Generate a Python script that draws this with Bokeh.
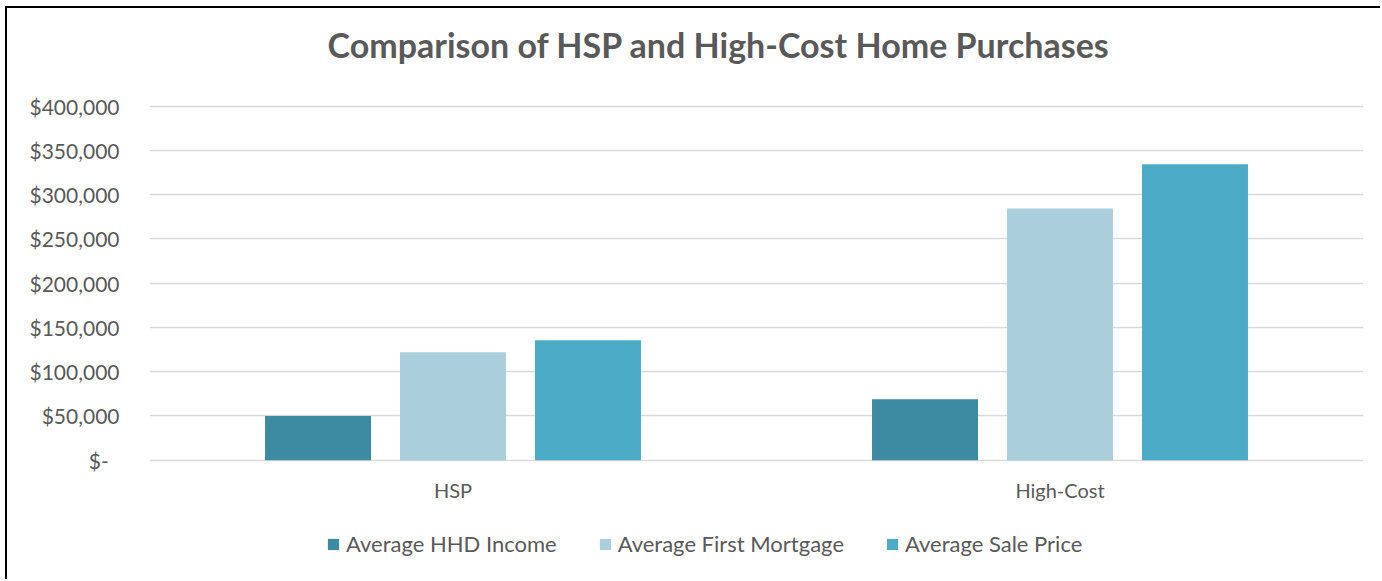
from bokeh.plotting import figure
from bokeh.models import (FactorRange, Range1d, FixedTicker, CustomJSTickFormatter,
                          ColumnDataSource, Legend, LegendItem, Title)
from bokeh.core.properties import value
from bokeh.transform import dodge
from bokeh.embed import file_html
from bokeh.resources import INLINE

categories = ["HSP", "High-Cost"]
series_names = ["Average HHD Income", "Average First Mortgage", "Average Sale Price"]
avg_hhd_income = [50000, 69000]
avg_first_mortgage = [122000, 284500]
avg_sale_price = [135500, 334500]
series_colors = ["#3C8BA3", "#AACEDC", "#4BABC6"]
y_ticks = [0, 50000, 100000, 150000, 200000, 250000, 300000, 350000, 400000]
title_text = "Comparison of HSP and High-Cost Home Purchases"

FONT = "Lato"
TEXT = "#595959"

source = ColumnDataSource(dict(cat=categories, income=avg_hhd_income,
                               mortgage=avg_first_mortgage, sale=avg_sale_price))

p = figure(x_range=FactorRange(factors=categories, range_padding=0),
           y_range=Range1d(-137000, 403000),
           width=1375, height=573, output_backend="svg", toolbar_location=None,
           min_border_left=142, min_border_right=19, min_border_top=95, min_border_bottom=0,
           title_location=None)
p.styles = {"box-shadow": "-2px -2px 0 0 black",
            "margin-left": "7px", "margin-top": "8px"}

bar_w = 0.1746
offsets = [-0.2224, 0.0, 0.2224]
cols = ["income", "mortgage", "sale"]
renderers = []
for col, off, color in zip(cols, offsets, series_colors):
    r = p.vbar(x=dodge("cat", off, range=p.x_range), top=col, bottom=0, width=bar_w,
               source=source, fill_color=color, line_color=None)
    renderers.append(r)

# category labels under the baseline
p.text(x="cat", y=0, text="cat", source=source, y_offset=30,
       text_align="center", text_baseline="middle",
       text_font=value(FONT), text_font_size="20px", text_color=TEXT)

p.outline_line_color = None
p.background_fill_color = "white"
p.border_fill_color = "white"

p.xgrid.visible = False
p.ygrid.ticker = FixedTicker(ticks=y_ticks)
p.ygrid.grid_line_color = "#D9D9D9"
p.ygrid.grid_line_width = 1.5

p.yaxis.ticker = FixedTicker(ticks=y_ticks)
p.yaxis.formatter = CustomJSTickFormatter(code="""
if (tick == 0) { return "$-\\u00a0\\u00a0"; }
return "$" + tick.toLocaleString("en-US");
""")
p.yaxis.axis_line_color = None
p.yaxis.major_tick_line_color = None
p.yaxis.minor_tick_line_color = None
p.yaxis.major_label_text_font = FONT
p.yaxis.major_label_text_font_size = "21px"
p.yaxis.major_label_text_color = TEXT
p.yaxis.major_label_standoff = 24

p.xaxis.visible = False

# spacer between frame and title, then the title itself (further out)
spacer = Title(text="\u00a0", text_font_size="10px", standoff=26)
p.add_layout(spacer, "above")
main_title = Title(text=title_text, text_font=FONT, text_font_style="bold",
                   text_font_size="34px", text_color=TEXT, align="left",
                   offset=178, standoff=0)
p.add_layout(main_title, "above")

legend = Legend(items=[LegendItem(label=n, renderers=[r]) for n, r in zip(series_names, renderers)],
                orientation="horizontal", location=(177, 24))
legend.label_text_font = FONT
legend.label_text_font_size = "22px"
legend.label_text_color = TEXT
legend.glyph_width = 14
legend.glyph_height = 14
legend.label_standoff = 6
legend.spacing = 41
legend.padding = 0
legend.margin = 0
legend.border_line_color = None
legend.background_fill_alpha = 0
p.add_layout(legend, "center")

open("out.html", "w").write(file_html(p, INLINE))
